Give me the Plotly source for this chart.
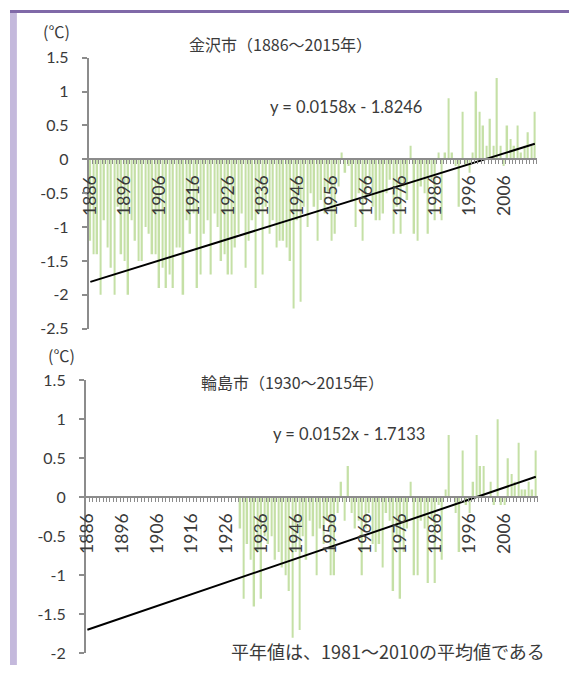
import plotly.graph_objects as go

# ---- data -------------------------------------------------------------
years = list(range(1886, 2016))

# Kanazawa annual mean temperature anomaly (°C), 1886-2015
kanazawa = [
    -1.2, -1.4, -1.4, -2.0, -0.9, -1.3, -1.6, -2.0, -0.7, -1.4,   # 1886-1895
    -1.5, -2.0, -0.9, -1.2, -1.5, -1.5, -1.0, -1.1, -1.4, -1.4,   # 1896-1905
    -1.9, -1.6, -1.9, -1.7, -1.9, -1.3, -1.3, -2.0, -0.9, -1.1,   # 1906-1915
    -0.8, -1.9, -1.7, -1.1, -0.9, -1.7, -0.8, -1.0, -1.5, -1.4,   # 1916-1925
    -1.7, -1.7, -1.3, -1.1, -0.8, -1.6, -1.2, -0.9, -1.9, -0.8,   # 1926-1935
    -1.7, -0.7, -1.1, -0.9, -1.3, -1.2, -1.2, -1.3, -1.5, -2.2,   # 1936-1945
    -0.9, -2.1, -0.7, -1.0, -0.5, -0.7, -1.2, -0.6, -0.8, -0.5,   # 1946-1955
    -1.2, -1.1, -0.4, 0.1, -0.2, -0.1, -0.6, -1.0, -0.5, -1.2,    # 1956-1965
    -0.6, -0.3, -0.7, -0.9, -0.9, -0.8, -0.5, -0.3, -1.1, -0.7,   # 1966-1975
    -1.1, -0.4, -0.6, 0.2, -1.1, -1.2, -0.4, -0.5, -1.1, -0.3,    # 1976-1985
    -0.9, 0.1, -0.9, 0.1, 0.9, 0.1, -0.1, -0.7, 0.7, -0.1,        # 1986-1995
    -0.2, 0.1, 1.0, 0.7, 0.5, 0.2, 0.6, 0.2, 1.2, 0.2,            # 1996-2005
    -0.1, 0.5, 0.3, 0.2, 0.5, 0.1, 0.2, 0.4, 0.2, 0.7,            # 2006-2015
]

# Wajima annual mean temperature anomaly (°C), 1930-2015
wajima_years = list(range(1930, 2016))
wajima = [
    -0.4, -1.3, -0.6, -0.8, -1.4, -0.7, -1.3, -0.5, -0.6, -0.5,   # 1930-1939
    -0.8, -0.7, -0.9, -1.0, -1.2, -1.8, -0.7, -1.7, -0.5, -0.8,   # 1940-1949
    -0.3, -0.5, -1.0, -0.4, -0.6, -0.3, -1.0, -1.0, -0.2, 0.2,    # 1950-1959
    -0.3, 0.4, -0.2, -0.4, -0.3, -1.0, -0.4, -0.2, -0.6, -0.7,    # 1960-1969
    -0.6, -0.9, -0.2, -0.3, -1.2, -0.5, -1.3, -0.7, -0.4, 0.2,    # 1970-1979
    -1.0, -1.0, -0.3, -0.4, -1.1, -0.3, -1.1, -0.1, -0.8, 0.1,    # 1980-1989
    0.8, 0.0, -0.2, -0.7, 0.6, -0.1, -0.2, 0.2, 0.8, 0.4,         # 1990-1999
    0.4, 0.0, 0.2, -0.1, 1.0, -0.1, -0.1, 0.5, 0.3, 0.2,          # 2000-2009
    0.7, 0.1, 0.1, 0.2, 0.1, 0.6,                                 # 2010-2015
]

year_ticks = list(range(1886, 2016, 10))
year_labels = [str(y) for y in year_ticks]

top_yticks = [1.5, 1, 0.5, 0, -0.5, -1, -1.5, -2, -2.5]
top_ylabels = ["1.5", "1", "0.5", "0", "-0.5", "-1", "-1.5", "-2", "-2.5"]
bot_yticks = [1.5, 1, 0.5, 0, -0.5, -1, -1.5, -2]
bot_ylabels = ["1.5", "1", "0.5", "0", "-0.5", "-1", "-1.5", "-2"]

# linear trend (x = 1 .. 130 over the category axis)
top_slope, top_icpt = 0.0158, -1.8246
bot_slope, bot_icpt = 0.0152, -1.7133

title_top = "金沢市（1886～2015年）"
title_bot = "輪島市（1930～2015年）"
eq_top = "y = 0.0158x - 1.8246"
eq_bot = "y = 0.0152x - 1.7133"
note = "平年値は、1981～2010の平均値である"
unit = "(℃)"

# ---- layout helpers ---------------------------------------------------
W, H = 569, 674
BAR = "#c5e0a6"
AXIS = "#8c8c8c"
TEXT = "#3a3a3a"
NUM_FONT = "Lato"
CJK_FONT = "Noto Sans CJK JP"


def fx(px):
    return px / W


def fy(px):
    return 1 - px / H


def zero_pos(top_px, bot_px, ymax, ymin):
    # paper position of y = 0 inside a vertical domain
    y0, y1 = fy(bot_px), fy(top_px)
    return y0 + (0 - ymin) / (ymax - ymin) * (y1 - y0)


panels = [
    dict(x=("x", "y"), left=80, right=536, top=49, bottom=328, ymax=1.5, ymin=-2.5,
         xs=years, vals=kanazawa, slope=top_slope, icpt=top_icpt,
         ticks=top_yticks, labels=top_ylabels),
    dict(x=("x2", "y2"), left=77, right=537, top=381, bottom=662, ymax=1.5, ymin=-2.0,
         xs=wajima_years, vals=wajima, slope=bot_slope, icpt=bot_icpt,
         ticks=bot_yticks, labels=bot_ylabels),
]

fig = go.Figure()
layout = {}
for n, p in enumerate(panels, start=1):
    xa, ya = p["x"]
    fig.add_trace(go.Bar(x=p["xs"], y=p["vals"], width=0.45, marker_color=BAR,
                         marker_line_width=0, xaxis=xa, yaxis=ya, showlegend=False))
    k = list(range(1, len(years) + 1))
    fig.add_trace(go.Scatter(x=years, y=[p["slope"] * i + p["icpt"] for i in k],
                             mode="lines", line=dict(color="black", width=2),
                             xaxis=xa, yaxis=ya, showlegend=False))
    sx = "" if n == 1 else str(n)
    layout["xaxis" + sx] = dict(
        domain=[fx(p["left"]), fx(p["right"])],
        range=[years[0] - 0.5, years[-1] + 0.5],
        anchor="free",
        position=zero_pos(p["top"], p["bottom"], p["ymax"], p["ymin"]),
        showline=True, linecolor=AXIS, linewidth=2,
        showgrid=False, zeroline=False,
        ticks="", tickmode="array", tickvals=year_ticks, ticktext=year_labels,
        tickangle=-90, ticklabelstandoff=8,
        tickfont=dict(family=NUM_FONT, size=17.5, color=TEXT),
        minor=dict(ticks="outside", ticklen=4, tickwidth=1, tickcolor=AXIS,
                   tick0=years[0] - 0.5, dtick=1, showgrid=False),
        fixedrange=True,
    )
    layout["yaxis" + sx] = dict(
        domain=[fy(p["bottom"]), fy(p["top"])],
        range=[p["ymin"], p["ymax"]],
        anchor=xa,
        showline=True, linecolor=AXIS, linewidth=1.5,
        showgrid=False, zeroline=False,
        ticks="outside", ticklen=5, tickcolor=AXIS, tickwidth=1.5,
        tickmode="array", tickvals=p["ticks"], ticktext=p["labels"],
        ticklabelstandoff=10,
        tickfont=dict(family=NUM_FONT, size=16, color=TEXT),
        fixedrange=True,
    )

annotations = [
    dict(text=title_top, x=fx(275), y=fy(35), font=dict(family=CJK_FONT, size=16, color=TEXT)),
    dict(text=title_bot, x=fx(288), y=fy(383), font=dict(family=CJK_FONT, size=16, color=TEXT)),
    dict(text=eq_top, x=fx(342), y=fy(100), font=dict(family=NUM_FONT, size=16.5, color=TEXT)),
    dict(text=eq_bot, x=fx(345), y=fy(436), font=dict(family=NUM_FONT, size=16.5, color=TEXT)),
    dict(text=note, x=fx(385), y=fy(660), font=dict(family=CJK_FONT, size=18, color=TEXT)),
    dict(text=unit, x=fx(47), y=fy(22), font=dict(family=CJK_FONT, size=16, color=TEXT)),
    dict(text=unit, x=fx(52), y=fy(355), font=dict(family=CJK_FONT, size=16, color=TEXT)),
]
for a in annotations:
    a.update(xref="paper", yref="paper", showarrow=False, xanchor="center", yanchor="middle")

shapes = [
    dict(type="rect", xref="paper", yref="paper", x0=0, x1=fx(7), y0=0, y1=1,
         fillcolor="#c4b9dc", line_width=0, layer="below"),
    dict(type="rect", xref="paper", yref="paper", x0=0, x1=1, y0=fy(3), y1=1,
         fillcolor="#8069a8", line_width=0, layer="below"),
]

fig.update_layout(
    width=W, height=H, margin=dict(l=0, r=0, t=0, b=0),
    paper_bgcolor="white", plot_bgcolor="white",
    barmode="overlay", annotations=annotations, shapes=shapes,
    **layout,
)

fig.write_html("out.html", config={"displayModeBar": False})

# page without the browser's default body margin
with open("out.html", encoding="utf-8") as fh:
    page = fh.read()
page = page.replace("<head>", "<head><style>html,body{margin:0;padding:0;}</style>", 1)
with open("out.html", "w", encoding="utf-8") as fh:
    fh.write(page)
